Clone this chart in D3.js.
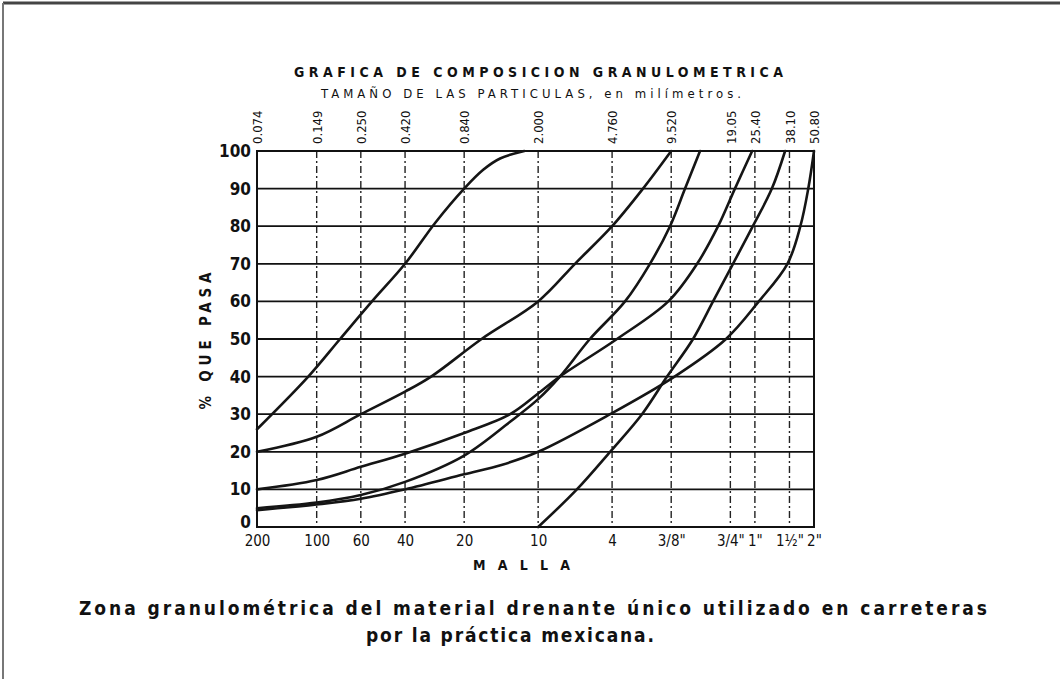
<!DOCTYPE html>
<meta charset="utf-8">
<style>
body { margin: 0; background: #fff; }
svg { display: block; }
.hgrid line { stroke: #111; stroke-width: 1.8px; }
.vgrid line { stroke: #222; stroke-width: 1.4px; stroke-dasharray: 7,3,2,3; }
.frame line { stroke: #111; stroke-width: 2px; }
.curves path { fill: none; stroke: #151515; stroke-width: 2.6px; stroke-linecap: round; }
.lbl { font-family: "DejaVu Sans Condensed", "DejaVu Sans", sans-serif; font-stretch: condensed; fill: #111; }
.axis path, .axis line { display: none; }
</style>
<svg width="1060" height="679"></svg>
<script src="https://d3js.org/d3.v7.min.js"></script>
<script>

// sieve openings (mm) and labels
var sieveMm = [0.074, 0.149, 0.250, 0.420, 0.840, 2.000, 4.760, 9.520, 19.05, 25.40, 38.10, 50.80];
var mmLabels = ["0.074", "0.149", "0.250", "0.420", "0.840", "2.000", "4.760", "9.520", "19.05", "25.40", "38.10", "50.80"];
var mallaLabels = ["200", "100", "60", "40", "20", "10", "4", "3/8\"", "3/4\"", "1\"", "1½\"", "2\""];
var pctTicks = [0, 10, 20, 30, 40, 50, 60, 70, 80, 90, 100];

// curves: [size mm, % passing]
var curveA = [[0.074, 26], [0.135, 40], [0.196, 50], [0.285, 60], [0.42, 70], [0.6, 81], [0.84, 90], [1.05, 95], [1.28, 98], [1.7, 100]];
var curveB = [[0.074, 20], [0.149, 24], [0.25, 30], [0.42, 36], [0.57, 40], [1.03, 50], [2.0, 60], [3.08, 70], [4.76, 80], [6.84, 90], [9.52, 100]];
var curveC = [[0.074, 10], [0.149, 12.5], [0.25, 16], [0.42, 19.5], [0.84, 25], [1.44, 30], [2.0, 35.5], [2.58, 40], [5.04, 50], [9.2, 60], [12.9, 70], [16.5, 80], [20.1, 90], [24.6, 100]];
var curveD = [[0.074, 5], [0.149, 6.5], [0.25, 8.5], [0.42, 12], [0.84, 19], [1.44, 28], [2.0, 34], [2.58, 40], [3.67, 50], [5.54, 60], [7.42, 70], [9.39, 80], [11.2, 90], [13.35, 100]];
var curveE = [[0.074, 4.5], [0.149, 6], [0.25, 7.5], [0.42, 10], [0.84, 14], [1.3, 16.5], [2.0, 20], [4.65, 30], [9.9, 40], [18.1, 50], [26.6, 60], [37.2, 70], [43.3, 80], [47.5, 90], [50.8, 100]];
var curveF = [[2.0, 0], [3.15, 10], [4.65, 20], [6.76, 30], [9.07, 40], [12.3, 50], [15.55, 60], [19.65, 70], [24.8, 80], [31.0, 90], [36.2, 100]];

var svg = d3.select("svg");

var x = d3.scaleLog().domain([0.074, 50.8]).range([257, 814]);
var y = d3.scaleLinear().domain([0, 100]).range([527, 151]);

// page edge of the scan
svg.append("line").attr("x1", 3).attr("y1", 3).attr("x2", 1060).attr("y2", 3)
    .attr("stroke", "#444").attr("stroke-width", 3);
svg.append("line").attr("x1", 3).attr("y1", 3).attr("x2", 3).attr("y2", 679)
    .attr("stroke", "#777").attr("stroke-width", 2);

// vertical sieve lines
svg.append("g").attr("class", "vgrid")
  .selectAll("line")
  .data(sieveMm.slice(1, -1))
  .enter().append("line")
    .attr("x1", function(d) { return x(d); })
    .attr("x2", function(d) { return x(d); })
    .attr("y1", y(100))
    .attr("y2", y(0));

// horizontal lines every 10%
svg.append("g").attr("class", "hgrid")
  .selectAll("line")
  .data(pctTicks)
  .enter().append("line")
    .attr("x1", x(0.074))
    .attr("x2", x(50.8))
    .attr("y1", function(d) { return y(d); })
    .attr("y2", function(d) { return y(d); });

// left / right borders
svg.append("g").attr("class", "frame")
  .selectAll("line")
  .data([0.074, 50.8])
  .enter().append("line")
    .attr("x1", function(d) { return x(d); })
    .attr("x2", function(d) { return x(d); })
    .attr("y1", y(100) - 1)
    .attr("y2", y(0) + 1);

// curves
var line = d3.line()
    .x(function(d) { return x(d[0]); })
    .y(function(d) { return y(d[1]); })
    .curve(d3.curveCatmullRom.alpha(0.5));

svg.append("g").attr("class", "curves")
  .selectAll("path")
  .data([curveA, curveB, curveC, curveD, curveE, curveF])
  .enter().append("path")
    .attr("d", line);

// left axis (% que pasa)
var yAxis = svg.append("g").attr("class", "axis lbl")
    .attr("transform", "translate(" + (x(0.074) - 6) + ",0)")
    .call(d3.axisLeft(y).tickValues(pctTicks).tickSize(0).tickPadding(0));
yAxis.selectAll("text")
    .attr("class", "lbl")
    .style("font-size", "17px")
    .style("font-weight", "bold")
    .attr("dy", function(d) { return d === 0 ? "0.05em" : "0.32em"; });

// top axis (mm)
var topAxis = svg.append("g").attr("class", "axis")
    .attr("transform", "translate(0," + (y(100) - 7) + ")")
    .call(d3.axisTop(x).tickValues(sieveMm).tickSize(0)
      .tickFormat(function(d, i) { return mmLabels[i]; }));
topAxis.selectAll("text")
    .attr("class", "lbl")
    .style("font-size", "13px")
    .attr("text-anchor", "start")
    .attr("transform", "rotate(-90)")
    .attr("x", 0)
    .attr("y", 0)
    .attr("dy", "0.36em");

// bottom axis (malla)
var botAxis = svg.append("g").attr("class", "axis")
    .attr("transform", "translate(0," + (y(0) + 5) + ")")
    .call(d3.axisBottom(x).tickValues(sieveMm).tickSize(0)
      .tickFormat(function(d, i) { return mallaLabels[i]; }));
botAxis.selectAll("text")
    .attr("class", "lbl")
    .style("font-size", "15px")
    .attr("dy", "0.75em");

// titles
svg.append("text").attr("class", "lbl")
    .attr("x", 294).attr("y", 77)
    .attr("textLength", 489).attr("lengthAdjust", "spacing")
    .style("font-size", "14px").style("font-weight", "bold")
    .text("GRAFICA DE COMPOSICION GRANULOMETRICA");

svg.append("text").attr("class", "lbl")
    .attr("x", 321).attr("y", 98)
    .attr("textLength", 420).attr("lengthAdjust", "spacing")
    .style("font-size", "13px")
    .text("TAMAÑO DE LAS PARTICULAS,  en milímetros.");

svg.append("text").attr("class", "lbl")
    .attr("transform", "translate(211,341) rotate(-90)")
    .attr("text-anchor", "middle")
    .attr("textLength", 137).attr("lengthAdjust", "spacing")
    .style("font-size", "15px").style("font-weight", "bold")
    .text("% QUE PASA");

svg.append("text").attr("class", "lbl")
    .attr("x", 473).attr("y", 570)
    .attr("textLength", 97).attr("lengthAdjust", "spacing")
    .style("font-size", "14px").style("font-weight", "bold")
    .text("MALLA");

// caption
svg.append("text").attr("class", "lbl")
    .attr("x", 79).attr("y", 615)
    .attr("textLength", 908).attr("lengthAdjust", "spacing")
    .style("font-size", "19px").style("font-weight", "bold")
    .text("Zona granulométrica del material drenante único utilizado en carreteras");

svg.append("text").attr("class", "lbl")
    .attr("x", 366).attr("y", 642)
    .attr("textLength", 288).attr("lengthAdjust", "spacing")
    .style("font-size", "19px").style("font-weight", "bold")
    .text("por la práctica mexicana.");

</script>
